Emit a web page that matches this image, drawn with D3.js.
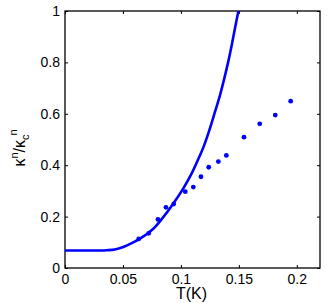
<!DOCTYPE html>
<html>
<head>
<meta charset="utf-8">
<script src="https://cdn.jsdelivr.net/npm/d3@7"></script>
<style>
  body { margin: 0; background: #fff; }
  svg { display: block; font-family: "Liberation Sans", Arial, sans-serif; }
</style>
</head>
<body>
<div id="chart"></div>
<script>
// measured points (T in K, kappa ratio)
var dotT = [0.0636, 0.0722, 0.0802, 0.0871, 0.0938, 0.1038, 0.1107, 0.1173,
  0.124, 0.1323, 0.1392, 0.1544, 0.168, 0.1814, 0.1947];
var dotK = [0.113, 0.135, 0.189, 0.236, 0.249, 0.297, 0.315, 0.355,
  0.392, 0.414, 0.438, 0.509, 0.561, 0.595, 0.649];

// model curve
var curveT = [0, 0.01, 0.02, 0.03, 0.036, 0.043, 0.0503, 0.0589, 0.0647, 0.0762,
  0.0848, 0.0935, 0.1021, 0.1093, 0.1165, 0.1202, 0.1251, 0.1295, 0.1338,
  0.1375, 0.1409, 0.1439, 0.1467, 0.1496];
var curveK = [0.068, 0.068, 0.068, 0.068, 0.069, 0.072, 0.082, 0.1, 0.114, 0.153,
  0.198, 0.251, 0.31, 0.368, 0.439, 0.479, 0.544, 0.609, 0.674,
  0.739, 0.804, 0.869, 0.934, 1.0];

var xTicks = [0, 0.05, 0.1, 0.15, 0.2];
var yTicks = [0, 0.2, 0.4, 0.6, 0.8, 1];

var W = 327, H = 303;
var pLeft = 65, pRight = 320, pTop = 11, pBottom = 268;
var blue = "#0000ff";

var svg = d3.select("#chart").append("svg")
  .attr("width", W)
  .attr("height", H);

var x = d3.scaleLinear().domain([0, 0.22]).range([pLeft, pRight]);
var y = d3.scaleLinear().domain([0, 1]).range([pBottom, pTop]);

svg.append("defs").append("clipPath").attr("id", "plotclip")
  .append("rect")
  .attr("x", pLeft).attr("y", pTop)
  .attr("width", pRight - pLeft).attr("height", pBottom - pTop);

var fmt = function(d) { return String(+d.toFixed(2)); };

// axes: ticks point inward, mirrored on the opposite side
var tl = 3;
svg.append("g").attr("transform", "translate(0," + pBottom + ")")
  .call(d3.axisBottom(x).tickValues(xTicks).tickSize(-tl).tickPadding(6).tickFormat(fmt));
svg.append("g").attr("transform", "translate(0," + pTop + ")")
  .call(d3.axisTop(x).tickValues(xTicks).tickSize(-tl).tickFormat(""));
svg.append("g").attr("transform", "translate(" + pLeft + ",0)")
  .call(d3.axisLeft(y).tickValues(yTicks).tickSize(-tl).tickPadding(5).tickFormat(fmt));
svg.append("g").attr("transform", "translate(" + pRight + ",0)")
  .call(d3.axisRight(y).tickValues(yTicks).tickSize(-tl).tickFormat(""));

svg.selectAll(".domain").remove();
svg.selectAll(".tick line").attr("stroke", "#000").attr("stroke-width", 1);
svg.selectAll(".tick text")
  .attr("fill", "#000")
  .style("font-size", "14px")
  .style("font-family", "'Liberation Sans', Arial, sans-serif");

svg.append("rect")
  .attr("x", pLeft).attr("y", pTop)
  .attr("width", pRight - pLeft).attr("height", pBottom - pTop)
  .attr("fill", "none")
  .attr("stroke", "#000")
  .attr("stroke-width", 1.3);

var line = d3.line()
  .x(function(d) { return x(d[0]); })
  .y(function(d) { return y(d[1]); })
  .curve(d3.curveCatmullRom.alpha(0.5));

svg.append("path")
  .datum(d3.zip(curveT, curveK))
  .attr("clip-path", "url(#plotclip)")
  .attr("d", line)
  .attr("fill", "none")
  .attr("stroke", blue)
  .attr("stroke-width", 2.6);

svg.selectAll("circle.dot")
  .data(d3.zip(dotT, dotK))
  .enter()
  .append("circle")
  .attr("class", "dot")
  .attr("cx", function(d) { return x(d[0]); })
  .attr("cy", function(d) { return y(d[1]); })
  .attr("r", 2.4)
  .attr("fill", blue);

// axis labels
svg.append("text")
  .attr("x", (pLeft + pRight) / 2 - 1)
  .attr("y", 299)
  .attr("text-anchor", "middle")
  .style("font-size", "16px")
  .text("T(K)");

var ylab = svg.append("text")
  .attr("transform", "translate(25,148) rotate(-90)")
  .attr("text-anchor", "middle")
  .style("font-size", "16px");
ylab.append("tspan").text("\u03ba");
ylab.append("tspan").attr("dy", -7).style("font-size", "11px").text("n");
ylab.append("tspan").attr("dy", 7).text("/\u03ba");
ylab.append("tspan").attr("dy", 4).style("font-size", "11px").text("c");
ylab.append("tspan").attr("dy", -12).attr("dx", -1).style("font-size", "11px").text("n");
</script>
</body>
</html>
